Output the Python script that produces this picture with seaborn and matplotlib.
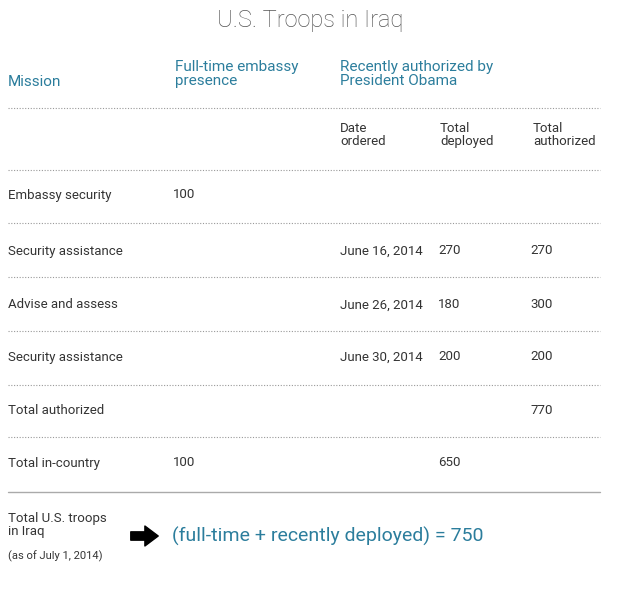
import matplotlib
matplotlib.use("Agg")
import matplotlib.pyplot as plt
import seaborn as sns
import pandas as pd

# table data
missions = ["Embassy security", "Security assistance", "Advise and assess",
            "Security assistance", "Total authorized", "Total in-country"]
fulltime = ["100", "", "", "", "", "100"]
dates = ["", "June 16, 2014", "June 26, 2014", "June 30, 2014", "", ""]
deployed = ["", "270", "180", "200", "", "650"]
authorized = ["", "270", "300", "200", "770", ""]

row_y = [195, 251, 305, 357, 411, 463]
sep_y = [108, 170, 223, 277, 331, 385, 437]

teal = "#2b7d9c"
gray = "#333333"

sns.set_theme(style="white", font="Roboto")
fig = plt.figure(figsize=(6.2, 5.98), dpi=100)
ax = fig.add_axes([0, 0, 1, 1])
ax.set_xlim(0, 620)
ax.set_ylim(598, 0)
ax.axis("off")

ax.text(310, 20, "U.S. Troops in Iraq", ha="center", va="center",
        fontsize=17, color="#555555", fontweight="light")

# headers
ax.text(8, 82, "Mission", va="center", fontsize=11, color=teal)
ax.text(175, 74, "Full-time embassy\npresence", va="center", fontsize=11,
        color=teal, linespacing=1.0)
ax.text(340, 74, "Recently authorized by\nPresident Obama", va="center",
        fontsize=11, color=teal, linespacing=1.0)
for x, lab in [(340, "Date\nordered"), (440, "Total\ndeployed"), (533, "Total\nauthorized")]:
    ax.text(x, 135, lab, va="center", fontsize=9.5, color=gray, linespacing=1.0)

# separators
for y in sep_y:
    seg = pd.DataFrame({"x": [8, 600], "y": [y, y]})
    sns.lineplot(data=seg, x="x", y="y", ax=ax, color="#999999", lw=0.8,
                 linestyle=(0, (1, 1.5)))
seg = pd.DataFrame({"x": [8, 600], "y": [492, 492]})
sns.lineplot(data=seg, x="x", y="y", ax=ax, color="#aaaaaa", lw=1)
ax.set_xlim(0, 620)
ax.set_ylim(598, 0)
ax.axis("off")

# rows
cols = [(8, missions), (173, fulltime), (340, dates), (438, deployed), (530, authorized)]
for x, values in cols:
    for y, v in zip(row_y, values):
        ax.text(x, y, v, va="center", fontsize=9.5, color=gray)

# bottom summary
ax.text(8, 525, "Total U.S. troops\nin Iraq", va="center", fontsize=9.5,
        color=gray, linespacing=1.0)
ax.text(8, 556, "(as of July 1, 2014)", va="center", fontsize=8, color=gray)
ax.annotate("", xy=(161, 536), xytext=(128, 536),
            arrowprops=dict(arrowstyle="simple,head_width=1.2,head_length=0.8,tail_width=0.5",
                            color="black"))
ax.text(172, 536, "(full-time + recently deployed) = 750", va="center",
        fontsize=14, color=teal)

fig.savefig("out.png", dpi=100)
